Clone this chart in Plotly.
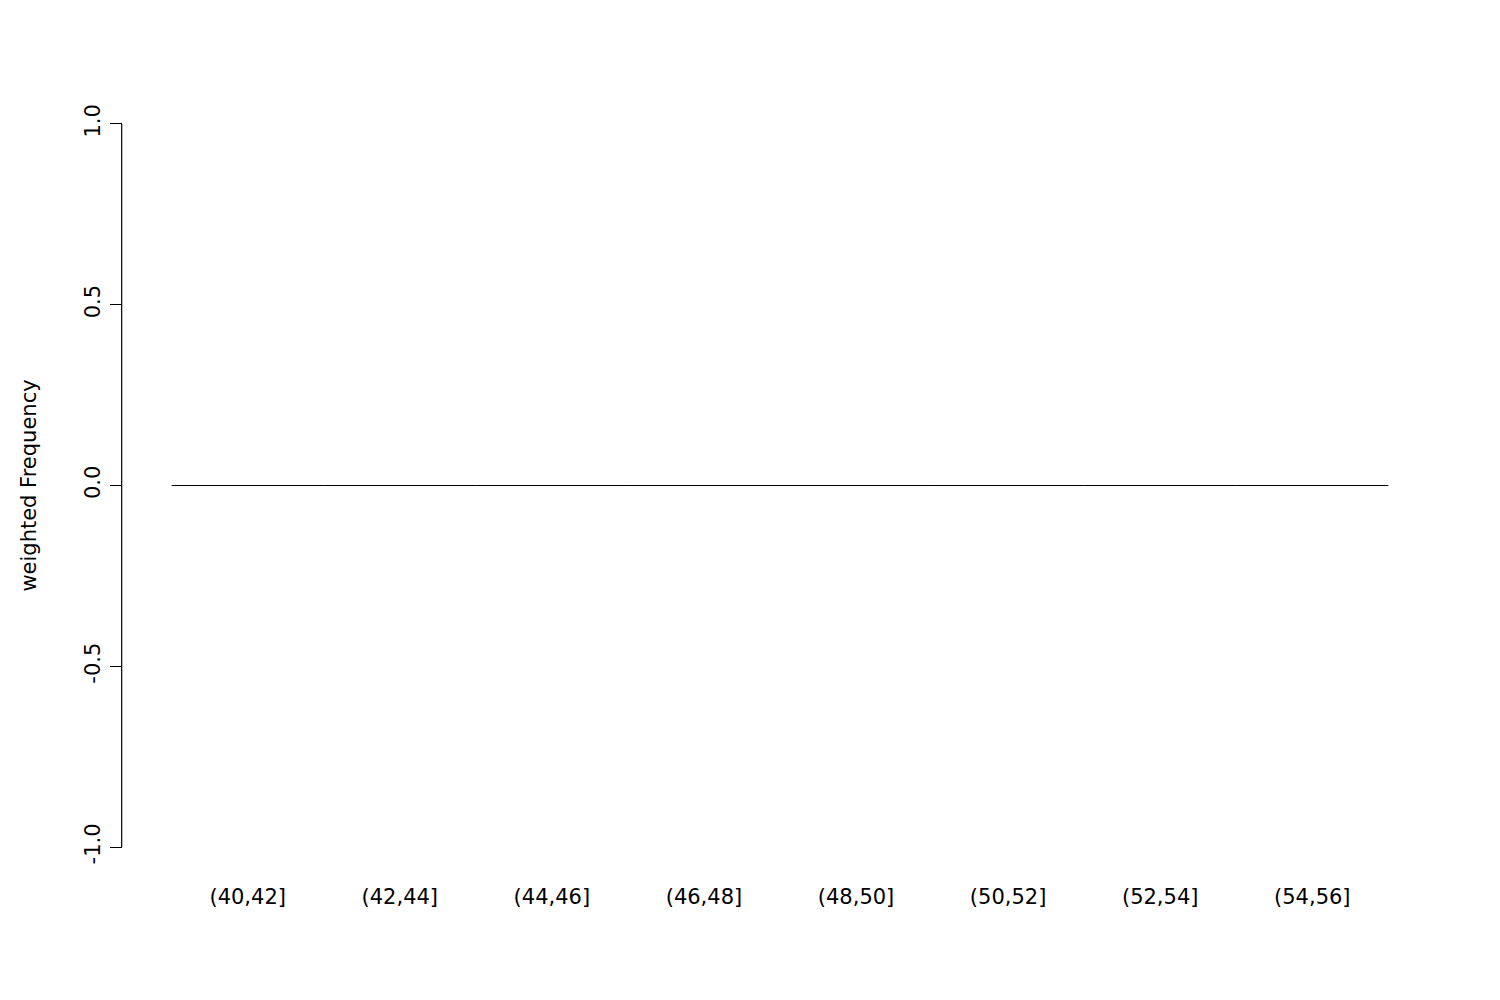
import plotly.graph_objects as go

categories = ["(40,42]", "(42,44]", "(44,46]", "(46,48]", "(48,50]", "(50,52]", "(52,54]", "(54,56]"]
values = [0, 0, 0, 0, 0, 0, 0, 0]
yticks = [-1.0, -0.5, 0.0, 0.5, 1.0]
ytick_labels = ["-1.0", "-0.5", "0.0", "0.5", "1.0"]

fig = go.Figure()
for i, v in enumerate(values):
    fig.add_trace(go.Scatter(x=[i, i, i + 1, i + 1, i], y=[0, v, v, 0, 0], mode="lines",
                             line=dict(color="black", width=1.2), showlegend=False, hoverinfo="skip"))

font = dict(family="DejaVu Sans", size=21, color="black")
fig.update_layout(
    width=1500, height=1000, plot_bgcolor="white", paper_bgcolor="white",
    margin=dict(l=115, r=71, t=87, b=132), font=font,
    xaxis=dict(range=[-0.32, 8.32], showgrid=False, zeroline=False, showline=False,
               tickvals=[i + 0.5 for i in range(len(categories))], ticktext=categories,
               ticks="", ticklabelstandoff=6, tickfont=font, automargin=False),
    yaxis=dict(range=[-1.08, 1.08], showgrid=False, zeroline=False, showline=False,
               tickvals=yticks, ticktext=ytick_labels, ticks="outside", ticklen=12,
               tickcolor="black", tickangle=-90, tickfont=font, ticklabelstandoff=2,
               automargin=False,
               title=dict(text="weighted Frequency", font=font, standoff=38)),
)
fig.add_shape(type="line", xref="paper", yref="y", x0=-0.001, x1=-0.001, y0=-1, y1=1,
              line=dict(color="black", width=1.2))
fig.write_html("out.html")
